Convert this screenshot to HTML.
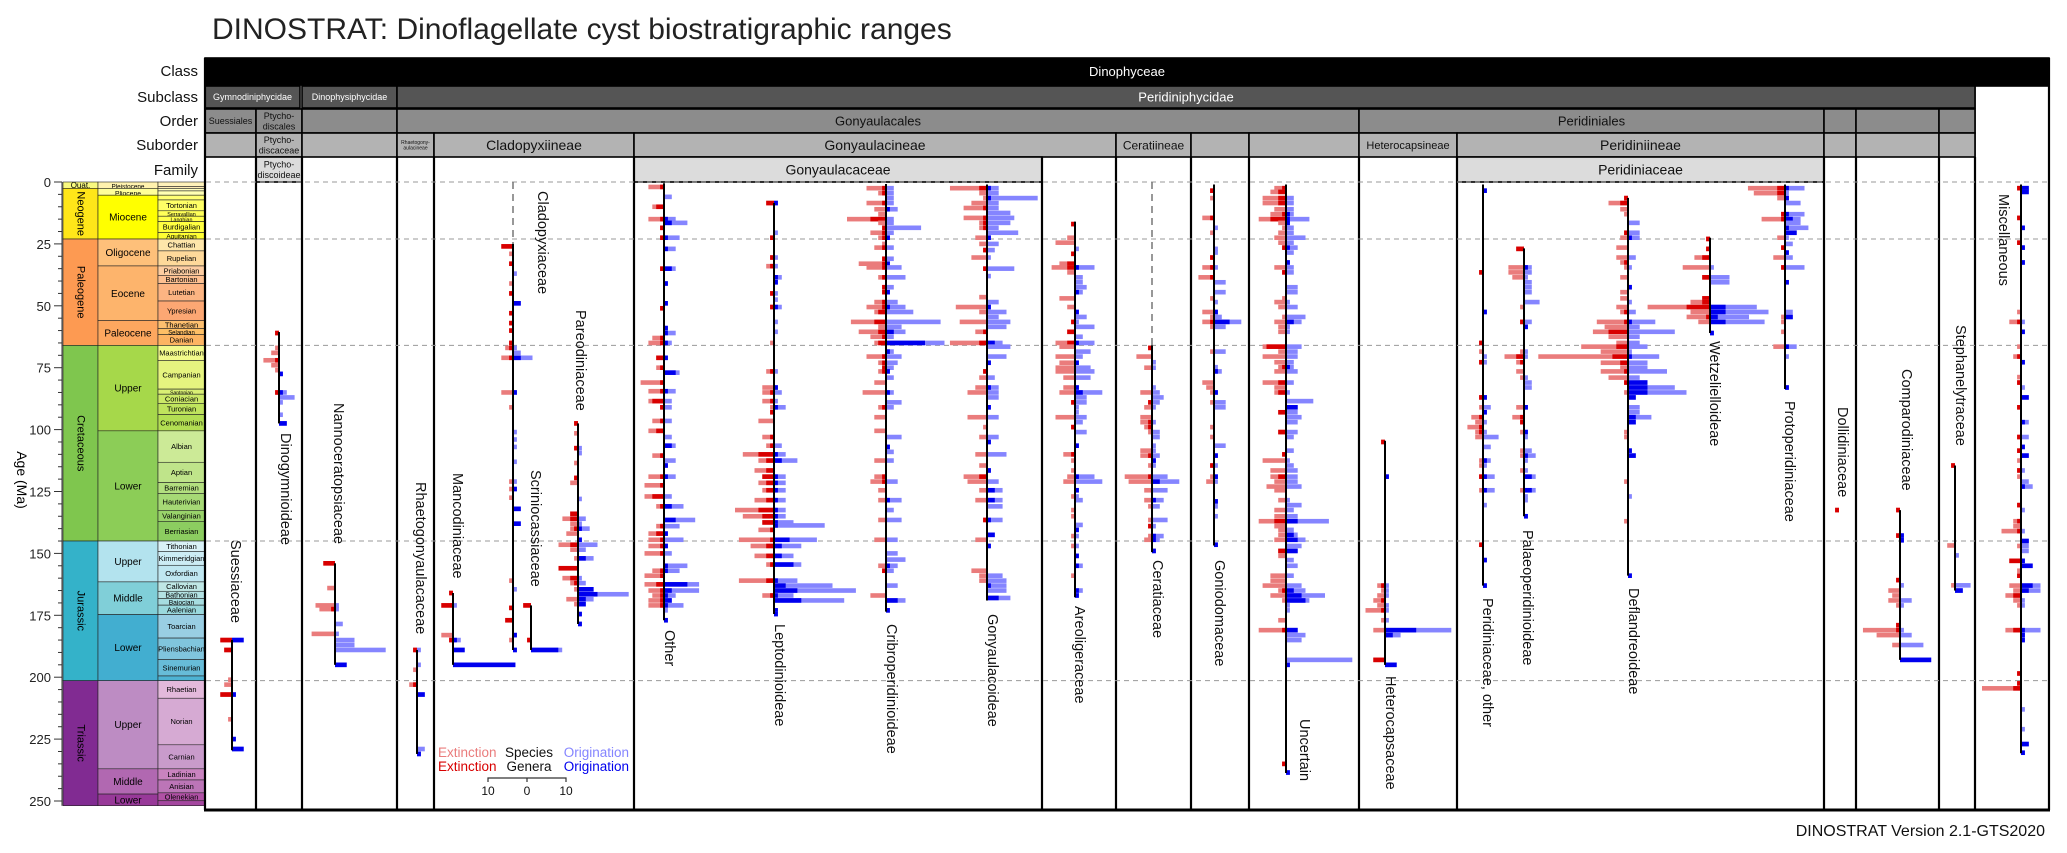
<!DOCTYPE html>
<html><head><meta charset="utf-8"><style>
html,body{margin:0;padding:0;background:#fff;}
svg{display:block;font-family:"Liberation Sans",Arial,sans-serif;}
</style></head><body>
<svg id="chart" width="2067" height="853" viewBox="0 0 2067 853" xmlns="http://www.w3.org/2000/svg">
<text x="212" y="39" font-size="30" fill="#222">DINOSTRAT: Dinoflagellate cyst biostratigraphic ranges</text>
<text x="2045" y="836" font-size="16" text-anchor="end" fill="#111">DINOSTRAT Version 2.1-GTS2020</text>
</svg>
<script>
// ---------- data ----------
const tickAges = [0,25,50,75,100,125,150,175,200,225,250];
const boundaryAges = [0,23.03,66,145,201.4];
const periods = [["Quat.",0,2.58,"#F9F97F"],["Neogene",2.58,23.03,"#FFE619"],["Paleogene",23.03,66,"#FD9A52"],["Cretaceous",66,145,"#7FC64E"],["Jurassic",145,201.4,"#34B2C9"],["Triassic",201.4,251.9,"#812B92"]];
const epochs = [["Pleistocene",0,2.58,"#FFF2AE"],["Pliocene",2.58,5.33,"#FFFF99"],["Miocene",5.33,23.03,"#FFFF00"],["Oligocene",23.03,33.9,"#FEC07A"],["Eocene",33.9,56,"#FDB46C"],["Paleocene",56,66,"#FDA75F"],["Upper",66,100.5,"#A6D84A"],["Lower",100.5,145,"#8CCD57"],["Upper",145,161.5,"#B3E3EE"],["Middle",161.5,174.7,"#80CFD8"],["Lower",174.7,201.4,"#42AED0"],["Upper",201.4,237,"#BD8CC3"],["Middle",237,247.2,"#B168B1"],["Lower",247.2,251.9,"#983999"]];
const stages = [["Calabrian",0,1.8,"#FFF2BA"],["Gelasian",1.8,2.58,"#FFEDB3"],["Piacenzian",2.58,3.6,"#FFFFBF"],["Zanclean",3.6,5.33,"#FFFFB3"],["Messinian",5.33,7.25,"#FFFF73"],["Tortonian",7.25,11.63,"#FFFF66"],["Serravallian",11.63,13.82,"#FFFF59"],["Langhian",13.82,15.98,"#FFFF4D"],["Burdigalian",15.98,20.44,"#FFFF41"],["Aquitanian",20.44,23.03,"#FFFF33"],["Chattian",23.03,27.82,"#FEE6AA"],["Rupelian",27.82,33.9,"#FED99A"],["Priabonian",33.9,37.71,"#FDCDA1"],["Bartonian",37.71,41.03,"#FDC091"],["Lutetian",41.03,48.07,"#FCB482"],["Ypresian",48.07,56,"#FCA773"],["Thanetian",56,59.24,"#FDBF6F"],["Selandian",59.24,61.66,"#FEBF65"],["Danian",61.66,66,"#FDB462"],["Maastrichtian",66,72.17,"#F2FA8C"],["Campanian",72.17,83.65,"#E6F47F"],["Santonian",83.65,85.7,"#D9EF74"],["Coniacian",85.7,89.39,"#CCE968"],["Turonian",89.39,93.9,"#BFE35D"],["Cenomanian",93.9,100.5,"#B3DE53"],["Albian",100.5,113.2,"#CCEA97"],["Aptian",113.2,121.4,"#BFE48A"],["Barremian",121.4,125.77,"#B3DF7F"],["Hauterivian",125.77,132.6,"#A6D975"],["Valanginian",132.6,137.05,"#99D36A"],["Berriasian",137.05,145,"#8CCD60"],["Tithonian",145,149.2,"#D9F1F7"],["Kimmeridgian",149.2,154.8,"#CCECF4"],["Oxfordian",154.8,161.5,"#BFE7F1"],["Callovian",161.5,165.3,"#BFE7E5"],["Bathonian",165.3,168.2,"#B3E2E3"],["Bajocian",168.2,170.9,"#A6DDE0"],["Aalenian",170.9,174.7,"#9AD9DD"],["Toarcian",174.7,184.2,"#99CEE3"],["Pliensbachian",184.2,192.9,"#80C5DD"],["Sinemurian",192.9,199.5,"#67BCD8"],["Hettangian",199.5,201.4,"#4EB3D3"],["Rhaetian",201.4,208.5,"#E3B9DB"],["Norian",208.5,227.3,"#D6AAD3"],["Carnian",227.3,237,"#C99BCB"],["Ladinian",237,241.5,"#C983BF"],["Anisian",241.5,246.7,"#BC75B7"],["Olenekian",246.7,249.9,"#B051A5"],["Induan",249.9,251.9,"#A4469F"]];

// bins: [age Ma, species extinctions, species originations, genera extinctions, genera originations]
const suessiaceaeBins = [[185,3,3,3,3],[189,2,0,2,0],[201,1,0,0,0],[203,2,0,0,0],[207,3,1,3,1],[217,1,0,0,0],[225,0,1,0,1],[229,0,3,0,3]];
const dinogymnioideaeBins = [[61,1,0,1,0],[67,1,0,0,0],[69,2,0,0,0],[72,4,0,1,0],[74,2,0,0,0],[76,1,0,0,0],[77.5,0,1,0,1],[85,1,2,1,1],[87,0,4,0,0],[89,0,1,0,0],[94,0,1,0,0],[97.5,0,2,0,2]];
const nannoceratopsiaceaeBins = [[154,3,0,3,0],[164,2,0,0,0],[171,5,1,0,0],[172.5,4,1,1,0],[178.5,0,2,0,0],[182.5,6,1,0,0],[185,0,5,0,0],[187,0,5,0,0],[189,0,13,0,0],[195,0,3,0,3]];
const rhaetogonyaulacaceaeBins = [[189,1,1,1,0],[195,0,1,0,0],[197,1,0,0,0],[203,2,0,1,0],[207,0,2,0,2],[229,0,2,0,0],[231,0,1,0,1]];
const mancodiniaceaeBins = [[166,1,0,1,0],[171,3,1,3,0],[183,3,0,0,0],[185,1,2,1,1],[189,0,3,0,3],[195,0,16,0,16]];
const cladopyxiaceaeBins = [[26,3,0,3,0],[29,1,0,0,0],[33,1,0,1,0],[37,0,1,0,0],[41,1,0,0,0],[45,1,0,1,0],[49,0,2,0,2],[53,1,0,1,0],[57,1,0,1,0],[60,1,0,1,0],[65,1,0,1,0],[67,2,1,1,0],[69,0,2,0,0],[71,3,5,1,2],[85,3,1,0,1],[91,1,0,0,0],[101,0,1,0,0],[104,0,1,0,0],[107,0,1,0,0],[113,0,1,0,0],[121,1,1,0,0],[124,1,1,0,1],[127.5,1,0,0,0],[132,0,2,0,2],[138,0,2,0,2],[161,1,0,0,0],[164.5,0,1,0,0],[172,1,0,1,0],[177,2,0,2,0],[183,0,1,0,1],[185,1,0,0,0],[189,0,1,0,1]];
const scriniocassiaceaeBins = [[171,2,0,2,0],[185,1,0,1,0],[189,0,8,0,7]];
const pareodiniaceaeBins = [[97.5,1,0,1,0],[101.5,1,0,0,0],[107.5,1,1,1,0],[109.5,0,1,0,0],[113.5,1,0,0,0],[119.5,1,0,1,0],[121.5,2,0,0,0],[128,0,1,0,0],[134,2,0,2,0],[136,4,2,2,0],[138,2,1,0,0],[140,2,3,1,1],[142,3,0,0,0],[144.5,0,1,0,1],[146.5,5,5,2,0],[148.5,2,2,0,0],[152,1,4,0,2],[156,5,0,5,0],[160,4,1,2,0],[162,2,2,1,0],[164.5,1,4,0,4],[166.5,0,13,0,5],[168.5,3,4,0,2],[170.5,1,2,0,2],[174.5,0,1,0,1],[178.5,0,1,0,1]];
const otherBins = [[2,4,0,1,0],[6,0,2,0,0],[10,3,0,2,0],[15,4,3,1,1],[16.5,0,6,0,2],[18.5,1,0,1,0],[22.5,1,4,1,1],[27,0,3,0,1],[35,1,3,1,2],[41,0,1,0,1],[49,0,1,0,1],[51,1,0,1,0],[59,0,1,0,1],[61,0,3,0,1],[63,3,0,1,0],[65,4,2,1,1],[71,2,1,2,1],[75,2,0,1,0],[77,0,4,0,3],[81,6,0,1,0],[84.5,4,3,1,1],[88.5,4,2,3,0],[91,1,2,1,0],[96.5,3,2,1,0],[100.5,4,0,2,0],[103,0,2,0,0],[106.5,0,3,0,2],[110.5,3,0,1,0],[112.5,0,3,0,0],[114.5,0,1,0,1],[119,4,3,1,1],[122.5,5,0,1,0],[127,5,2,3,0],[131,2,5,1,2],[136.5,0,8,0,3],[139,2,4,1,0],[142,4,1,2,1],[144.5,4,5,1,0],[147,4,1,1,1],[150,5,2,1,0],[155,0,6,0,1],[157,3,4,1,1],[159,5,0,1,0],[162.5,5,9,2,6],[165,4,9,1,2],[167,3,3,1,1],[169,4,2,1,2],[171,4,5,1,1],[173,0,1,0,0],[177,0,1,0,1]];
const leptodinioideaeBins = [[8.5,2,1,2,1],[20.5,0,1,0,0],[22.5,1,0,1,0],[30.5,1,1,1,0],[34,2,1,1,0],[38.5,0,2,0,1],[40.5,0,1,0,1],[45,1,1,1,0],[47.5,0,1,0,0],[50.5,1,2,1,1],[56.5,0,1,0,0],[60.5,0,1,0,0],[65,1,0,0,0],[76.5,2,1,1,0],[83,3,1,0,1],[85,3,2,1,0],[88.5,3,1,1,0],[91,1,3,0,1],[93,1,0,1,0],[96.5,4,0,0,0],[103,3,0,1,0],[106.5,2,2,1,0],[110,8,3,4,1],[112.5,4,6,2,2],[116.5,5,0,2,0],[119,3,3,3,1],[121.5,4,3,2,1],[124.5,3,3,2,1],[128.5,5,3,2,1],[132.5,10,3,4,1],[135,8,3,3,1],[137.5,3,5,3,1],[138.7,0,13,0,1],[140.5,4,0,1,0],[144.5,9,11,1,4],[147,6,7,2,2],[151,5,5,2,2],[154.5,2,7,1,5],[161,9,6,2,1],[163,0,15,0,3],[165,0,21,0,6],[167,3,5,1,1],[169,0,18,0,7],[173,0,1,0,1],[174.5,0,1,0,1]];
const cribroperidinioideaeBins = [[2.5,5,2,1,0],[4.5,2,2,1,0],[6.5,0,2,0,0],[8.5,5,2,1,0],[11,3,3,0,1],[13,2,0,0,0],[15,10,2,4,0],[16.5,2,2,0,0],[18.5,1,9,1,0],[20.5,4,2,1,0],[22.5,2,1,1,1],[25,1,0,0,0],[26.5,3,2,1,0],[31,1,2,1,0],[33,7,1,1,1],[34.5,5,4,1,0],[38.5,2,5,1,0],[42.5,1,2,1,0],[44.5,1,1,1,1],[48.5,3,3,1,0],[50.5,5,5,1,1],[52.5,3,7,2,0],[56.5,9,14,3,0],[58.5,2,4,0,0],[60.5,7,5,2,2],[62.5,4,2,1,0],[65,3,15,2,10],[68.5,0,2,0,1],[70.5,5,4,1,0],[73,2,3,1,0],[75,1,2,1,0],[76.5,2,1,1,1],[79,0,2,0,0],[81,3,0,0,0],[85,6,2,0,1],[89,0,4,0,0],[91,2,2,1,0],[95,3,0,0,0],[100.5,3,0,0,0],[103,0,4,0,0],[107,0,1,0,1],[109,0,2,0,0],[112.5,3,2,0,0],[119,3,0,1,0],[121,4,3,1,0],[124.5,2,0,0,0],[128.5,2,4,0,1],[132.5,0,2,0,0],[136.5,2,4,0,0],[144.5,3,3,0,0],[150,0,3,0,0],[152.5,0,5,0,0],[155,2,3,0,1],[157,1,2,1,0],[163,0,3,0,0],[167,4,0,0,0],[169,0,5,0,3],[173,0,1,0,1]];
const gonyaulacoideaeBins = [[2.5,9.5,3,2,1],[4.5,2,3,0,0],[6.5,1,13,0,1],[8.5,4,3,0,0],[10.5,6,3,1,0],[12.5,0,6,0,0],[14.5,6,7,1,0],[16.5,2,6,1,0],[18.5,2,3,1,0],[20.5,0,8,0,0],[22.5,3,1,0,1],[25,2,3,0,0],[27.5,1,2,1,0],[30.5,4,1,0,0],[35,1,7,1,0],[38,0,1,0,0],[46.5,2,0,0,0],[48.5,0,3,0,0],[50.5,8,1,0,1],[52.5,2,5,0,0],[54.5,0,3,0,0],[56.5,7,6,0,0],[58.5,0,5,0,0],[60.5,3,0,1,0],[65,9.5,4,2,2],[66.5,0,6,0,0],[70.5,0,5,0,0],[73,0,1,0,1],[76.5,1,0,1,0],[79,2,2,0,0],[83,3,3,0,1],[85,5,3,0,0],[87,0,3,0,0],[91,0,1,0,1],[95,5,3,0,0],[99,1,0,0,0],[103,2,3,0,0],[105,0,1,0,1],[110,3,5,0,0],[114.5,2,0,0,0],[116.5,0,1,0,1],[119,6,0,2,0],[121,5,3,0,0],[124.5,2,4,0,2],[128.5,3,4,0,2],[131,0,4,0,0],[136.5,1,4,1,1],[142.5,0,2,0,2],[144.5,3,0,0,0],[147,0,1,0,1],[157,4,0,0,0],[159,2,4,0,0],[161,2,5,0,0],[163,0,5,0,1],[165,0,5,0,0],[168,0,6,0,3]];
const areoligeraceaeBins = [[17,1,0,1,0],[22.5,2,0,0,0],[24.5,5,0,0,0],[27,0,1,0,0],[29,1,0,1,0],[33,4,0,2,0],[34.5,6,5,2,1],[36.5,2,0,0,0],[38.5,0,2,0,0],[40.5,0,2,0,0],[42.5,0,3,0,0],[44.5,0,2,0,1],[47,4,0,0,0],[50.5,2,0,0,0],[52.5,0,1,0,1],[54.5,0,3,0,0],[56.5,1,1,1,0],[58.5,0,5,0,0],[60.5,2,0,2,0],[62.5,0,2,0,0],[65,5,5,2,1],[66.5,4,0,0,0],[68.5,0,4,0,0],[70.5,5,2,0,0],[73,4,1,0,1],[75,5,4,0,0],[76.5,5,5,0,0],[79,3,4,0,0],[83,3,1,0,1],[85,4,7,0,2],[87,0,3,0,0],[89,1,3,1,0],[91,0,1,0,0],[93,0,1,0,0],[95,5,3,0,0],[97,0,2,0,0],[99,1,0,1,0],[101,0,3,0,0],[106.5,0,1,0,1],[110,3,0,1,0],[112.5,1,0,0,0],[116.5,1,0,0,0],[119,2,5,0,1],[121,3,7,0,0],[124.5,0,1,0,1],[127,1,1,0,0],[128.5,0,2,0,0],[132.5,1,0,0,0],[135,1,0,0,0],[138.5,0,2,0,0],[140.5,0,1,0,1],[143,1,1,0,0],[147,1,1,0,0],[151,0,1,0,1],[155,0,2,0,1],[159,1,0,0,0],[165,0,2,0,1],[167,0,1,0,1]];
const ceratiaceaeBins = [[67,1,0,1,0],[70.5,4,0,0,0],[72.8,0,1,0,0],[75,2,1,0,0],[83,0,1,0,0],[85,3,2,0,0],[87,0,3,0,0],[89,1,2,1,0],[91,2,1,0,0],[95,3,0,0,0],[97,3,1,1,0],[99,2,0,1,0],[101,1,2,0,0],[103,0,2,0,0],[106.5,0,1,0,0],[108.5,3,1,0,0],[110.5,3,2,1,0],[112.5,0,1,0,1],[114.5,1,1,0,0],[119,7,4,1,0],[121,6,7,0,2],[124.5,2,4,0,0],[128.5,2,3,0,1],[131,1,2,0,0],[136.5,1,4,0,0],[139,1,1,1,0],[143,1,3,0,1],[144.5,2,2,0,1],[149,0,1,0,1]];
const goniodomaceaeBins = [[3.5,1,0,1,0],[6.5,1,0,0,0],[14.5,3,0,1,0],[18.5,0,1,0,0],[20.5,1,0,0,0],[27,0,1,0,0],[28.5,0,1,0,0],[30.5,1,0,1,0],[34.5,3,1,1,0],[38.5,4,0,1,0],[40.5,0,3,0,0],[44.5,0,3,0,0],[47,1,0,0,0],[48.5,0,1,0,0],[52.5,3,1,0,1],[54.5,1,2,0,0],[56.5,3,7,1,4],[58.5,1,3,0,0],[68.5,1,3,0,0],[74.8,0,1,0,0],[76.5,0,2,0,1],[81,3,0,0,0],[83,2,0,0,0],[85,1,1,0,1],[89,1,3,0,0],[91,0,3,0,0],[99,1,0,0,0],[103,1,0,0,0],[106.5,0,3,0,0],[110.5,0,1,0,1],[114.5,1,1,1,0],[119,1,1,0,1],[121,2,1,0,0],[129,0,1,0,1],[131,0,1,0,0],[135,0,1,0,0],[146.5,0,1,0,1]];
const uncertainBins = [[2.5,3,0,1,0],[4,4,0,2,0],[6.5,6,2,2,0],[8.5,6,2,2,0],[11,3,2,0,0],[13,4,2,1,1],[15,7,6,4,1],[16.5,2,1,0,1],[18.5,1,2,0,0],[20.5,2,2,0,0],[22.5,3,5,0,0],[24.5,2,2,0,0],[26.5,1,3,1,1],[28.5,0,2,0,0],[32.5,0,1,0,1],[34.5,3,2,0,0],[36.5,1,2,1,0],[42.5,0,3,0,0],[44.5,0,3,0,0],[47,1,0,0,0],[48.5,3,1,0,0],[50.5,2,3,0,0],[54.5,1,5,0,0],[56.5,3,4,0,2],[58.5,2,1,0,0],[60.5,2,1,0,0],[66.5,6,4,5,0],[68.5,2,3,0,0],[70.5,6,3,0,0],[72.8,3,2,0,0],[74.8,2,2,1,1],[76.5,3,3,0,0],[81,6,2,2,0],[83,3,0,0,0],[85,3,1,2,0],[88.5,0,7,0,0],[91,0,3,0,3],[93,2,3,2,0],[95,0,4,0,0],[97,0,3,0,0],[101,2,3,2,0],[103,0,2,0,0],[108.5,0,2,0,0],[110,1,0,1,0],[112.5,6,1,0,0],[114.5,0,2,0,0],[116.5,4,3,0,0],[119,4,3,2,0],[121,3,3,0,0],[123,5,4,0,0],[124.5,3,0,0,0],[128.5,2,1,0,0],[130.5,0,4,0,0],[132.5,3,2,0,0],[135,3,3,0,0],[137,7,11,3,3],[139,3,0,0,0],[140.5,2,2,0,0],[142.5,2,3,0,2],[144.5,3,5,0,3],[147,0,4,0,0],[149,2,3,2,3],[151,2,0,0,0],[152.7,0,2,0,0],[155,0,3,0,0],[159,4,2,0,0],[161,4,0,0,0],[163,6,4,0,0],[165,2,5,1,2],[167,4,10,0,4],[169,1,6,0,5],[171,0,1,0,0],[173,0,1,0,0],[177,2,0,0,0],[181,7,3,1,3],[183,0,5,0,0],[185,0,4,0,0],[193,0,17,0,0],[195,0,1,0,1],[235,1,0,1,0],[238.5,0,1,0,1]];
const heterocapsaceaeBins = [[105,1,0,1,0],[119,0,1,0,1],[163,2,1,1,0],[165,1,1,0,0],[167,2,1,0,0],[169,3,0,1,0],[171,2,1,0,0],[173,5,1,1,0],[177,1,1,0,0],[181,3,17,0,8],[183,0,4,0,2],[193,3,0,3,0],[195,0,3,0,3]];
const peridiniaceaeOtherBins = [[3.5,0,1,0,1],[36.5,1,0,1,0],[52.5,0,1,0,1],[65,1,0,1,0],[68.5,1,0,0,0],[70.5,0,1,0,0],[72.8,1,1,1,0],[87,1,1,1,1],[91,1,2,0,0],[93,0,1,0,1],[95,3,0,1,0],[97,2,1,0,0],[99,4,0,1,0],[101,2,1,1,0],[103,2,4,0,0],[107,0,2,0,0],[112.5,1,2,0,1],[114.5,1,1,0,0],[119,1,3,1,1],[124.5,1,3,0,1],[130.5,0,1,0,0],[146.5,1,0,1,0],[152.7,0,1,0,1],[163,0,1,0,1]];
const palaeoperidinioideaeBins = [[27,2,0,2,0],[34.5,4,2,0,1],[36.5,4,2,0,0],[38.5,3,1,0,0],[40.5,0,2,0,0],[42.5,0,2,0,0],[44.5,0,2,0,0],[48.5,0,4,0,0],[50.5,1,0,0,0],[56.5,1,2,1,0],[58.5,0,1,0,1],[68.5,1,1,0,0],[70.5,5,1,2,0],[72.8,2,0,1,0],[76.5,2,0,0,0],[79,1,1,0,0],[81,0,2,0,0],[83,0,2,0,0],[91,2,1,0,1],[95,3,0,1,0],[97,1,0,1,0],[101,1,1,0,1],[103,0,1,0,0],[108.5,1,2,0,0],[110.5,1,3,0,1],[112.5,0,1,0,0],[116.5,1,1,0,0],[119,0,3,0,2],[124.5,1,3,0,2],[127,0,1,0,0],[128.5,0,1,0,0],[135,0,1,0,1]];
const deflandreoideaeBins = [[6.5,1,0,1,0],[8.5,5,0,2,0],[11,2,0,0,0],[13,1,0,0,0],[16.5,0,3,0,0],[20.5,1,3,1,0],[22.5,2,3,0,1],[26.5,3,0,0,0],[30.5,3,2,0,0],[32.5,2,0,1,0],[34.5,1,1,0,0],[38.5,2,0,0,0],[42.5,0,1,0,1],[44.5,2,0,0,0],[47,2,0,0,0],[48.5,0,1,0,0],[50.5,3,0,0,0],[52.5,2,2,1,0],[56.5,8,7,1,1],[58.5,6,3,0,0],[60.5,9,12,5,0],[62.5,5,3,0,0],[65,3,3,0,0],[66.5,12,5,3,0],[68.5,7,1,0,0],[70.5,23,8,4,1],[73,7,5,2,0],[75,2,5,0,0],[76.5,7,10,1,0],[79,5,3,0,0],[81,1,5,1,5],[83,0,12,0,5],[85,1,15,0,5],[87,0,2,0,2],[91,0,3,0,0],[93,0,3,0,0],[95,0,6,0,2],[97,0,2,0,2],[101,1,0,0,0],[103,1,0,0,0],[108.5,0,1,0,1],[110.5,0,2,0,2],[121,1,0,0,0],[127,0,1,0,0],[137,1,0,0,0],[159,0,1,0,1]];
const wetzelielloideaeBins = [[23,1,0,1,0],[27,1,0,1,0],[30.5,4,0,2,0],[34.5,7,1,0,0],[38.5,2,5,2,0],[40.5,0,5,0,0],[47,2,0,2,0],[48.5,5,0,2,0],[50.5,16,12,6,4],[52.5,5,15,0,4],[54.5,6,10,1,2],[56.5,3,14,0,4],[61,0,1,0,1]];
const protoperidiniaceaeBins = [[2.5,9.5,5,2,1],[4.5,8,1,2,0],[6.5,2,1,0,1],[8.5,0,4,0,0],[13,1,5,1,1],[15,6,4,1,2],[16.5,0,4,0,0],[18.5,0,6,0,1],[20.5,0,3,0,3],[22.5,2,1,0,0],[25,0,2,0,0],[26.5,1,0,1,0],[28.5,0,1,0,1],[30.5,3,2,0,0],[34.5,1,5,1,0],[40.5,0,1,0,1],[52.5,0,2,0,0],[54.5,1,2,0,2],[56.5,1,0,0,0],[60.5,1,0,0,0],[66.5,3,3,0,1],[70.5,0,1,0,0],[83,0,1,0,1]];
const dollidiniaceaeBins = [[132.5,1,0,1,0]];
const comparodiniaceaeBins = [[132.5,1,0,1,0],[142.8,1,1,1,1],[144.7,0,1,0,1],[160.8,1,0,1,0],[162.9,0,1,0,0],[165,3,0,0,0],[167,2,0,0,0],[169,3,3,0,0],[171,1,1,0,0],[179,1,0,1,0],[181,9.5,1,1,0],[183,6,3,0,0],[187,2,6,0,0],[193,0,8,0,8]];
const stephanelytraceaeBins = [[114.5,1,0,1,0],[146.8,2,0,0,0],[150.8,0,1,0,0],[162.9,1,4,0,0],[165,0,2,0,2]];
const miscellaneousBins = [[2.5,1,2,1,2],[4,0,2,0,2],[14.5,1,0,1,0],[18.5,0,1,0,1],[24.5,1,0,1,0],[26.5,0,1,0,1],[32.5,0,1,0,1],[52.5,1,0,0,0],[56.5,3,1,1,0],[60.5,0,1,0,1],[66.5,1,0,0,0],[70.5,2,0,1,0],[72.8,0,1,0,1],[78.8,1,0,0,0],[81,1,0,1,0],[83,0,1,0,0],[87,0,2,0,2],[91,1,0,1,0],[97,0,2,0,1],[103,1,2,1,0],[107,0,1,0,1],[108.5,1,0,1,0],[110.5,0,2,0,2],[112.5,1,0,0,0],[116.5,1,1,1,0],[119,1,0,0,0],[121,0,2,0,0],[123,0,3,0,1],[130.5,1,0,1,0],[132.5,0,1,0,0],[137,2,0,1,0],[139,2,0,0,0],[141,5,1,1,0],[145,0,2,0,2],[147,1,2,0,0],[149,0,2,0,0],[153,3,1,3,1],[155,0,3,0,3],[157,1,0,0,0],[159,1,0,1,0],[163,3,5,0,3],[165,2,5,0,2],[167,4,0,2,0],[169,2,1,0,0],[171,1,1,0,0],[181,4,5,2,1],[183,0,1,0,1],[185,0,1,0,1],[198.5,1,0,1,0],[202.5,1,0,1,0],[204.5,10,0,2,0],[213,0,1,0,0],[221,0,1,0,0],[227,0,2,0,2],[230.5,0,1,0,1]];

// ranges: [name, first Ma, last Ma, dashed-until Ma]
const taxonNames = ["Suessiaceae","Dinogymnioideae","Nannoceratopsiaceae","Rhaetogonyaulacaceae","Mancodiniaceae","Cladopyxiaceae","Scriniocassiaceae","Pareodiniaceae","Other","Leptodinioideae","Cribroperidinioideae","Gonyaulacoideae","Areoligeraceae","Ceratiaceae","Goniodomaceae","Uncertain","Heterocapsaceae","Peridiniaceae, other","Palaeoperidinioideae","Deflandreoideae","Wetzelielloideae","Protoperidiniaceae","Dollidiniaceae","Comparodiniaceae","Stephanelytraceae","Miscellaneous"];
const rangeTop = [185,60.6,154,189,166,25,171,97.5,0.5,8.5,0.8,1,16,66,1,1,104.5,1,26.8,6.4,22.5,1,132.5,132.5,114.5,1];
const rangeBase = [229.5,97.5,195,231,195,189,189,178.5,177,174.5,173.5,169,167.7,149.5,146.8,238.7,195,163,135,159,61,83.6,132.5,193,165,230.7];
const dashedTop = [null,null,null,null,null,0,null,null,null,null,null,null,null,0,null,null,null,null,null,null,null,null,null,null,null,null];
const binSets = [suessiaceaeBins,dinogymnioideaeBins,nannoceratopsiaceaeBins,rhaetogonyaulacaceaeBins,mancodiniaceaeBins,cladopyxiaceaeBins,scriniocassiaceaeBins,pareodiniaceaeBins,otherBins,leptodinioideaeBins,cribroperidinioideaeBins,gonyaulacoideaeBins,areoligeraceaeBins,ceratiaceaeBins,goniodomaceaeBins,uncertainBins,heterocapsaceaeBins,peridiniaceaeOtherBins,palaeoperidinioideaeBins,deflandreoideaeBins,wetzelielloideaeBins,protoperidiniaceaeBins,dollidiniaceaeBins,comparodiniaceaeBins,stephanelytraceaeBins,miscellaneousBins];

// ---------- layout (not data) ----------
const axisX = [232,279,335,417,453,513,531,578,664,774,886,987,1075,1152,1214,1286,1385,1483,1524,1628,1710,1785,1839,1900,1955,2021];
const labelX = [235,285,338,420,457,542,535,580,669,779,891,992,1079,1157,1219,1304,1390,1487,1527,1633,1714,1789,1842,1906,1960,2003];
const labelTopY = [540,433,403,482,473,191,470,310,630,624,624,614,606,560,560,719,676,598,530,588,341,401,407,369,325,194];
const colLines = [205,256,302,397,434,634,1042,1116,1191,1249,1359,1457,1824,1856,1939,1975,2049];

const Y0 = 182, PXMA = 2.476, PXSP = 3.9, BAR_H = 4.6;
const yScale = a => Y0 + a * PXMA;
const xLen = n => n * PXSP;
const NS = "http://www.w3.org/2000/svg";
const svg = document.getElementById('chart');
function mk(tag, attrs, parent){const e=document.createElementNS(NS,tag);for(const k in attrs)e.setAttribute(k,attrs[k]);(parent||svg).appendChild(e);return e;}

// ---------- time scale ----------
const ts = mk('g',{});


function tsCol(list,x0,x1,fs,kind){
  list.forEach(p=>{
    const yt=yScale(p[1]), yb=yScale(p[2]);
    const r=mk('rect',{x:x0,y:yt,width:x1-x0,height:yb-yt,fill:p[3],stroke:'#222','stroke-width':0.6},ts);
    
    
    const h=yb-yt;
    if(kind==='period'){
      let t;
      if(h<12){t=mk('text',{x:(x0+x1)/2,y:yt+h/2+3,'font-size':8,'text-anchor':'middle'},ts);}
      else{t=mk('text',{x:(x0+x1)/2,y:(yt+yb)/2,'font-size':11,'text-anchor':'middle','dominant-baseline':'central',transform:`rotate(90 ${(x0+x1)/2} ${(yt+yb)/2})`},ts);}
      t.textContent=p[0];
      
      
    } else if(h>=5){
      const t=mk('text',{x:(x0+x1)/2,y:(yt+yb)/2+fs*0.35,'font-size':Math.min(fs,h),'text-anchor':'middle'},ts);
      t.textContent=p[0];
      
      
    }
  });
}
tsCol(periods,63,98,11,'period');
tsCol(epochs,98,158,10,'epoch');
tsCol(stages,158,205,7.5,'stage');
const axl=mk('line',{x1:62,y1:Y0,x2:62,y2:yScale(251.9),stroke:'#333','stroke-width':1});


for(let a=0;a<=250;a+=5){
  const major=tickAges.includes(a);
  const tk=mk('line',{x1:major?54:58,y1:yScale(a),x2:62,y2:yScale(a),stroke:'#333','stroke-width':1});
  
  
}
tickAges.forEach(a=>{
  const t=mk('text',{x:51,y:yScale(a)+5,'font-size':13,'text-anchor':'end',fill:'#222'});
  t.textContent=a;
  
  
});
const at=mk('text',{x:22,y:480,'font-size':14,'text-anchor':'middle','dominant-baseline':'central',transform:'rotate(90 22 480)'});
at.textContent='Age (Ma)';



// ---------- header ----------
const rowY = {cls:[58,85],sub:[86,108],ord:[109,133],subo:[133,157],fam:[157,182]};
const rowLabels = [["Class",71],["Subclass",97],["Order",121],["Suborder",145],["Family",170]];
rowLabels.forEach(r=>{
  const t=mk('text',{x:198,y:r[1]+5,'font-size':15,'text-anchor':'end',fill:'#111'});
  t.textContent=r[0];
  
  
});
const classCells=[[205,2049,'Dinophyceae',13]];
const subclassCells=[[205,300,'Gymnodiniphycidae',9],[302,397,'Dinophysiphycidae',9],[397,1975,'Peridiniphycidae',13]];
const orderCells=[[205,256,'Suessiales',9],[256,302,'Ptycho-|discales',9],[302,397,'',9],[397,1359,'Gonyaulacales',13],[1359,1824,'Peridiniales',13],[1824,1856,'',9],[1856,1939,'',9],[1939,1975,'',9]];
const suborderCells=[[205,256,'',9],[256,302,'Ptycho-|discaceae',9],[302,397,'',9],[397,434,'Rhaetogony-|aulacineae',5],[434,634,'Cladopyxiineae',14],[634,1116,'Gonyaulacineae',14],[1116,1191,'Ceratiineae',12],[1191,1249,'',9],[1249,1359,'',9],[1359,1457,'Heterocapsineae',11],[1457,1824,'Peridiniineae',14],[1824,1856,'',9],[1856,1939,'',9],[1939,1975,'',9]];
const familyCells=[[256,302,'Ptycho-|discoideae',9],[634,1042,'Gonyaulacaceae',14],[1457,1824,'Peridiniaceae',14]];
function hdr(cells,yy,fill,tc,kind){
  cells.forEach(c=>{
    const r=mk('rect',{x:c[0],y:yy[0],width:c[1]-c[0],height:yy[1]-yy[0],fill:fill,stroke:'#000','stroke-width':1.6});
    
    
    if(c[2]){
      const parts=c[2].split('|');const cy=(yy[0]+yy[1])/2;
      parts.forEach((p,i)=>{
        const t=mk('text',{x:(c[0]+c[1])/2,y:cy+(i-(parts.length-1)/2)*c[3]*1.15+c[3]*0.36,'font-size':c[3],'text-anchor':'middle',fill:tc});
        t.textContent=p;
        
        
      });
    }
  });
}
// body white background of misc column + frame
const misc=mk('rect',{x:1975,y:86,width:74,height:724,fill:'#fff',stroke:'#000','stroke-width':1.6});


hdr(classCells,rowY.cls,'#000','#fff','class');
hdr(subclassCells,rowY.sub,'#555','#fff','subclass');
hdr(orderCells,rowY.ord,'#8c8c8c','#111','order');
hdr(suborderCells,rowY.subo,'#b3b3b3','#111','suborder');
hdr(familyCells,rowY.fam,'#dcdcdc','#111','family');

// column lines
colLines.forEach(x=>{
  const l=mk('line',{x1:x,y1:x===205||x===2049?58:157,x2:x,y2:810,stroke:'#000','stroke-width':2.2});
  
  
});
const bl=mk('line',{x1:204,y1:810,x2:2050,y2:810,stroke:'#000','stroke-width':3});



// boundary dashed lines
boundaryAges.forEach(a=>{
  const l=mk('line',{x1:206,y1:yScale(a),x2:2048,y2:yScale(a),stroke:'#999','stroke-width':1,'stroke-dasharray':'5,4'});
  
  
});

// ---------- range charts ----------
taxonNames.forEach((nm,i)=>{
  const g=mk('g',{});
  
  
  const ax=axisX[i];
  binSets[i].forEach(b=>{
    const yc=yScale(b[0])-BAR_H/2;
    if(b[1]>0){const r=mk('rect',{x:ax-xLen(b[1]),y:yc,width:xLen(b[1]),height:BAR_H,fill:'#ea7c7c'},g);
      
      }
    if(b[2]>0){const r=mk('rect',{x:ax,y:yc,width:xLen(b[2]),height:BAR_H,fill:'#8585ff'},g);
      
      }
    if(b[3]>0){const r=mk('rect',{x:ax-xLen(b[3]),y:yc,width:xLen(b[3]),height:BAR_H,fill:'#d80000'},g);
      
      }
    if(b[4]>0){const r=mk('rect',{x:ax,y:yc,width:xLen(b[4]),height:BAR_H,fill:'#0000ee'},g);
      
      }
  });
  if(dashedTop[i]!==null){
    const d=mk('line',{x1:ax,y1:yScale(dashedTop[i]),x2:ax,y2:yScale(rangeTop[i]),stroke:'#777','stroke-width':1.5,'stroke-dasharray':'7,5'},g);
    
    
  }
  if(rangeBase[i]>rangeTop[i]){
    const l=mk('line',{x1:ax,y1:yScale(rangeTop[i]),x2:ax,y2:yScale(rangeBase[i]),stroke:'#000','stroke-width':2},g);
    
    
  }
  const t=mk('text',{x:labelX[i],y:labelTopY[i],'font-size':14.5,'dominant-baseline':'central',transform:`rotate(90 ${labelX[i]} ${labelTopY[i]})`,fill:'#111'},g);
  t.textContent=nm;
  
  
});

// ---------- legend ----------
const lg=mk('g',{});


const legendItems=[["Extinction",438,757,'#ea7c7c','start'],["Extinction",438,771,'#d80000','start'],["Species",529,757,'#111','middle'],["Genera",529,771,'#111','middle'],["Origination",629,757,'#8585ff','end'],["Origination",629,771,'#0000ee','end']];
legendItems.forEach(li=>{
  const t=mk('text',{x:li[1],y:li[2],'font-size':13.5,'text-anchor':li[4],fill:li[3]},lg);
  t.textContent=li[0];
  
  
});
const sl=mk('path',{d:`M${527-xLen(10)} 782 V778 H${527+xLen(10)} V782 M527 778 V782`,fill:'none',stroke:'#333','stroke-width':1.2},lg);


[["10",527-xLen(10)],["0",527],["10",527+xLen(10)]].forEach(s=>{
  const t=mk('text',{x:s[1],y:795,'font-size':12,'text-anchor':'middle',fill:'#111'},lg);
  t.textContent=s[0];
  
  
});
</script>
</body></html>
